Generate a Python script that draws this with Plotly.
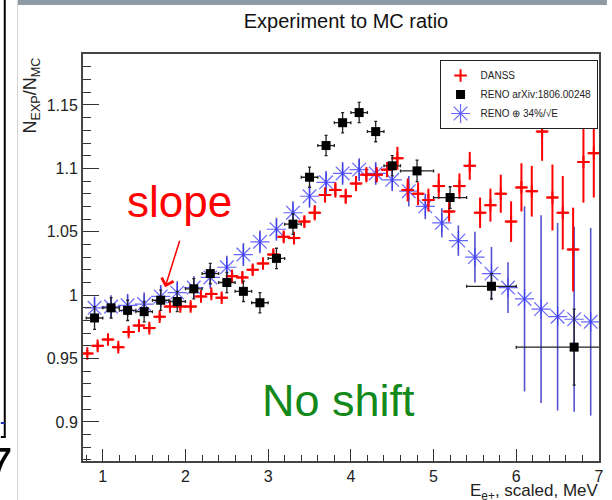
import plotly.graph_objects as go

# ---------------- data ----------------
danss_x = [0.8125 + 0.125 * k for k in range(50)]
danss_y = [0.954, 0.960, 0.965, 0.959, 0.971, 0.976, 0.974, 0.983, 0.991, 0.991,
           0.991, 0.999, 1.001, 0.998, 1.015, 1.014, 1.020, 1.025, 1.032, 1.046,
           1.045, 1.058, 1.065, 1.079, 1.083, 1.078, 1.088, 1.095, 1.095, 1.099,
           1.108, 1.083, 1.080, 1.075, 1.086, 1.066, 1.086, 1.102, 1.065, 1.071,
           1.080, 1.058, 1.085, 1.082, 1.129, 1.077, 1.065, 1.036, 1.105, 1.112]
danss_ey = [0.003] * 14 + [0.004] * 8 + [0.006] * 8 + [0.009, 0.009, 0.009, 0.009,
            0.010, 0.008, 0.010, 0.011, 0.012, 0.013, 0.015, 0.016,
            0.019, 0.020, 0.023, 0.026, 0.029, 0.033, 0.032, 0.035]
danss_ex = [0.0625] * 50

reno_x = [0.9, 1.1, 1.3, 1.5, 1.7, 1.9, 2.1, 2.3, 2.5, 2.7, 2.9, 3.1, 3.3, 3.5,
          3.7, 3.9, 4.1, 4.3, 4.5, 4.8, 5.2, 5.7, 6.7]
reno_y = [0.982, 0.990, 0.988, 0.987, 0.996, 0.995, 1.005, 1.017, 1.010, 1.003,
          0.994, 1.029, 1.056, 1.093, 1.118, 1.136, 1.144, 1.129, 1.102, 1.098,
          1.077, 1.007, 0.959]
reno_ex = [0.1] * 19 + [0.2, 0.2, 0.3, 0.7]
reno_ey = [0.009] + [0.008] * 18 + [0.0085, 0.0085, 0.010, 0.030]

smear_x = [round(0.9 + 0.2 * k, 1) for k in range(31)]
smear_y = [0.990, 0.991, 0.992, 0.993, 0.999, 1.002, 1.006, 1.014, 1.022, 1.032,
           1.042, 1.052, 1.065, 1.078, 1.089, 1.096, 1.099, 1.096, 1.091, 1.082,
           1.070, 1.057, 1.043, 1.030, 1.017, 1.006, 0.997, 0.989, 0.983, 0.981,
           0.979]
smear_ey = [0.009] * 19 + [0.012, 0.010, 0.0115, 0.012, 0.020, 0.021, 0.020,
            0.073, 0.074, 0.074, 0.073, 0.074]

y_tickvals = [0.9, 0.95, 1.0, 1.05, 1.1, 1.15]
y_ticktext = ["0.9", "0.95", "1", "1.05", "1.1", "1.15"]
x_tickvals = [1, 2, 3, 4, 5, 6, 7]
x_ticktext = ["1", "2", "3", "4", "5", "6", "7"]

# ---------------- layout helpers ----------------
W, H = 612, 500
L, R, T, B = 83, 604, 54, 461
def px(xp):
    return (xp - L) / (R - L)
def py(yp):
    return (B - yp) / (B - T)

FONT = "Liberation Sans, Arial, sans-serif"

fig = go.Figure()

fig.add_trace(go.Scatter(
    x=smear_x, y=smear_y, mode="markers", name="RENO \u2295 34%/\u221aE",
    legendrank=3,
    marker=dict(symbol="asterisk-open", size=16, color="rgba(50,50,255,0.75)",
                line=dict(color="rgba(50,50,255,0.75)", width=1.2)),
    error_y=dict(type="data", array=smear_ey, visible=True, width=0,
                 thickness=1.6, color="rgba(40,40,190,0.8)"),
))

fig.add_trace(go.Scatter(
    x=danss_x, y=danss_y, mode="markers", name="DANSS", legendrank=1,
    marker=dict(symbol="cross-thin", size=9, color="red",
                line=dict(color="red", width=2)),
    error_x=dict(type="data", array=danss_ex, visible=True, width=0,
                 thickness=2, color="red"),
    error_y=dict(type="data", array=danss_ey, visible=True, width=0,
                 thickness=2, color="red"),
))

fig.add_trace(go.Scatter(
    x=reno_x, y=reno_y, mode="markers", name="RENO arXiv:1806.00248",
    legendrank=2,
    marker=dict(symbol="square", size=9, color="black"),
    error_x=dict(type="data", array=reno_ex, visible=True, width=1.5,
                 thickness=1.3, color="#222"),
    error_y=dict(type="data", array=reno_ey, visible=True, width=1.5,
                 thickness=1.3, color="#222"),
))

axis_common = dict(showline=True, mirror=True, linecolor="#444", linewidth=2,
                   ticks="inside", tickcolor="#333", tickwidth=1,
                   showgrid=False, zeroline=False,
                   tickfont=dict(family=FONT, size=16, color="#222"))

fig.update_xaxes(range=[0.7605, 7.0005], tickvals=x_tickvals, ticktext=x_ticktext,
                 ticklen=12,
                 minor=dict(dtick=0.2, tick0=0, ticklen=6, ticks="inside",
                            tickcolor="#333", tickwidth=1),
                 **axis_common)
fig.update_yaxes(range=[0.8692, 1.1902], tickvals=y_tickvals, ticktext=y_ticktext,
                 ticklen=16,
                 minor=dict(dtick=0.01, tick0=0.9, ticklen=8, ticks="inside",
                            tickcolor="#333", tickwidth=1),
                 **axis_common)

shapes = [
    # slide artefacts
    dict(type="rect", xref="paper", yref="paper", x0=px(17), x1=px(612),
         y0=py(0), y1=py(5), fillcolor="#8e9ba5", line=dict(width=0), layer="above"),
    dict(type="line", xref="paper", yref="paper", x0=px(17), x1=px(17),
         y0=py(5), y1=py(500), line=dict(color="#d0d0d0", width=1)),
    dict(type="line", xref="paper", yref="paper", x0=px(4), x1=px(4),
         y0=py(0), y1=py(437), line=dict(color="black", width=2)),
    dict(type="line", xref="paper", yref="paper", x0=px(0), x1=px(5),
         y0=py(437), y1=py(437), line=dict(color="black", width=2)),
    dict(type="line", xref="paper", yref="paper", x0=px(0), x1=px(4),
         y0=py(423), y1=py(423), line=dict(color="#2233aa", width=2)),
]

annotations = [
    dict(text="N<sub>EXP</sub>/N<sub>MC</sub>", xref="paper", yref="paper",
         x=px(32), y=py(55), xanchor="center", yanchor="top", textangle=-90,
         showarrow=False, font=dict(family=FONT, size=18, color="#222")),
    dict(text="E<sub>e+</sub>, scaled, MeV", xref="paper", yref="paper",
         x=px(606), y=py(492), xanchor="right", yanchor="middle",
         showarrow=False, font=dict(family=FONT, size=17, color="#222")),
    dict(text="slope", xref="paper", yref="paper", x=px(180), y=py(201),
         xanchor="center", yanchor="middle", showarrow=False,
         font=dict(family=FONT, size=44, color="red")),
    dict(text="", x=1.754, y=1.0063, xref="x", yref="y", showarrow=True,
         ax=15, ay=-48, arrowhead=4, arrowsize=1.6, arrowwidth=1.5,
         arrowcolor="red"),
    dict(text="No shift", xref="paper", yref="paper", x=px(341), y=py(400),
         xanchor="center", yanchor="middle", showarrow=False,
         font=dict(family=FONT, size=45, color="#12891a")),
    dict(text="7", xref="paper", yref="paper", x=px(14), y=py(466),
         xanchor="right", yanchor="middle", showarrow=False,
         font=dict(family=FONT, size=50, color="black")),
]

fig.update_layout(
    width=W, height=H,
    margin=dict(l=L, r=W - R, t=T, b=H - B),
    paper_bgcolor="white", plot_bgcolor="white",
    title=dict(text="Experiment to MC ratio", x=346 / W, y=1 - 21 / H,
               xref="container", yref="container", xanchor="center",
               yanchor="middle", font=dict(family=FONT, size=20, color="#111")),
    showlegend=True,
    legend=dict(x=px(443), y=py(60), xanchor="left", yanchor="top",
                bgcolor="white", bordercolor="#222", borderwidth=1,
                font=dict(family=FONT, size=10, color="#222"),
                itemsizing="trace", traceorder="normal", tracegroupgap=0),
    shapes=shapes, annotations=annotations,
)

fig.write_html("out.html")
